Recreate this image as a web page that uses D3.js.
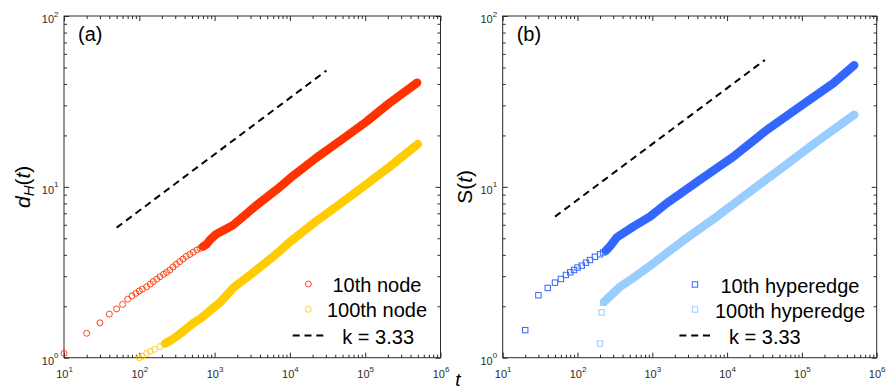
<!DOCTYPE html>
<html>
<head>
<meta charset="utf-8">
<script src="https://cdn.jsdelivr.net/npm/d3@7"></script>
<style>
body { margin: 0; background: #fff; }
svg { display: block; font-family: 'Liberation Sans', Arial, sans-serif; }
</style>
</head>
<body>
<div id="chart"></div>
<script>
// values, [t, value]
const node10 = [
	[10, 1.06], [20, 1.39], [30, 1.60], [40, 1.80], [50, 1.93], [60, 2.05], [70, 2.20], [80, 2.30], [90, 2.38],
	[100, 2.46], [110, 2.52], [125, 2.60], [140, 2.70], [153, 2.79], [170, 2.88], [188, 2.98], [210, 3.08],
	[230, 3.16], [254, 3.26], [280, 3.40], [310, 3.52], [344, 3.65], [380, 3.78], [420, 3.92], [469, 4.02],
	[520, 4.15], [580, 4.27], [640, 4.37], [700, 4.47], [780, 4.60], [870, 4.90], [960, 5.10], [1060, 5.30],
	[1300, 5.55], [1760, 5.97], [3600, 7.80], [6600, 9.60], [11000, 11.6], [22500, 14.8], [50400, 19.1],
	[103000, 24.0], [209000, 30.9], [490000, 40.7]
];
const node100 = [
	[100, 1.0], [110, 1.02], [125, 1.06], [140, 1.09], [160, 1.12], [188, 1.16], [220, 1.21], [260, 1.26],
	[312, 1.33], [400, 1.45], [519, 1.59], [680, 1.72], [865, 1.88], [1172, 2.10], [1800, 2.58], [3600, 3.26],
	[6620, 4.05], [9930, 4.75], [22400, 6.30], [41400, 7.66], [93300, 10.0], [210000, 13.1], [500000, 17.8]
];
const edge10 = [
	[20, 1.45], [30, 2.32], [40, 2.56], [50, 2.75], [60, 2.89], [70, 3.05], [80, 3.16], [90, 3.26], [100, 3.37],
	[114, 3.46], [130, 3.60], [147, 3.73], [171, 3.90], [200, 4.03], [220, 4.13], [240, 4.23], [273, 4.50],
	[334, 5.05], [557, 5.85], [931, 6.69], [1560, 8.02], [4350, 11.0], [12100, 15.0], [33900, 21.5],
	[94400, 29.5], [263000, 40.4], [500000, 51.5]
];
const edge100 = [
	[200, 1.21], [210, 1.84], [220, 2.10], [230, 2.13], [260, 2.25], [370, 2.60], [557, 2.93], [931, 3.45],
	[2590, 4.85], [7260, 6.69], [20200, 9.38], [56400, 13.1], [158000, 18.4], [500000, 26.4]
];
const guideA = [[50, 5.77], [30500, 47.9]];
const guideB = [[50, 6.69], [32000, 55.3]];

const xDomain = [1e1, 1e6];
const yDomain = [1e0, 1e2];
const xMajor = [1e1, 1e2, 1e3, 1e4, 1e5, 1e6];
const yMajor = [1e0, 1e1, 1e2];
const legendA = ['10th node', '100th node', 'k = 3.33'];
const legendB = ['10th hyperedge', '100th hyperedge', 'k = 3.33'];

const plotTop = 16;
const plotBottom = 357.7;
const axisColor = '#2b2b2b';

const svg = d3.select('#chart').append('svg')
		.attr('width', 888)
		.attr('height', 392);

function isMajor(v) {
	return Math.abs(Math.log10(v) - Math.round(Math.log10(v))) < 1e-6;
}

function supLabels(sel, dy) {
	sel.selectAll('.tick text')
			.attr('font-size', 11)
			.attr('font-family', 'Liberation Sans, Arial, sans-serif')
			.attr('fill', axisColor)
			.attr('dy', dy)
			.text('10')
		.append('tspan')
			.attr('font-size', 8)
			.attr('dy', -6.5)
			.text((d) => Math.round(Math.log10(d)));
}

function drawMarkers(sel, pts, s) {
	if (s.marker === 'circle') {
		sel.selectAll(null).data(pts).enter().append('circle')
				.attr('cx', (d) => d[0])
				.attr('cy', (d) => d[1])
				.attr('r', 3)
				.attr('fill', 'none')
				.attr('stroke', s.color)
				.attr('stroke-width', 0.9);
	} else {
		sel.selectAll(null).data(pts).enter().append('rect')
				.attr('x', (d) => d[0] - 2.7)
				.attr('y', (d) => d[1] - 2.7)
				.attr('width', 5.4)
				.attr('height', 5.4)
				.attr('fill', 'none')
				.attr('stroke', s.color)
				.attr('stroke-width', 1);
	}
}

function drawPanel(cfg) {
	const x = d3.scaleLog().domain(xDomain).range([cfg.left, cfg.right]);
	const y = d3.scaleLog().domain(yDomain).range([plotBottom, plotTop]);
	const xMinor = x.ticks().filter((v) => !isMajor(v));
	const yMinor = y.ticks().filter((v) => !isMajor(v));
	const g = svg.append('g').attr('color', axisColor);

	const sides = [
		{ fn: d3.axisBottom, s: x, t: `translate(0,${plotBottom})`, major: xMajor, minor: xMinor },
		{ fn: d3.axisTop, s: x, t: `translate(0,${plotTop})`, major: xMajor, minor: xMinor },
		{ fn: d3.axisLeft, s: y, t: `translate(${cfg.left},0)`, major: yMajor, minor: yMinor },
		{ fn: d3.axisRight, s: y, t: `translate(${cfg.right},0)`, major: yMajor, minor: yMinor },
	];
	sides.forEach((a) => {
		[[a.minor, 3], [a.major, 5]].forEach(([vals, len]) => {
			g.append('g')
					.attr('transform', a.t)
					.call(a.fn(a.s).tickValues(vals).tickSize(-len).tickSizeOuter(0).tickFormat(''))
					.call((s) => s.select('.domain').remove());
		});
	});

	// tick labels
	g.append('g')
			.attr('transform', `translate(0,${plotBottom})`)
			.call(d3.axisBottom(x).tickValues(xMajor).tickSize(0).tickPadding(12.8))
			.call((s) => s.select('.domain').remove())
			.call((s) => supLabels(s, '0.71em'));
	g.append('g')
			.attr('transform', `translate(${cfg.left},0)`)
			.call(d3.axisLeft(y).tickValues(yMajor).tickSize(0).tickPadding(5.5))
			.call((s) => s.select('.domain').remove())
			.call((s) => supLabels(s, '0.6em'));

	g.append('rect')
			.attr('x', cfg.left)
			.attr('y', plotTop)
			.attr('width', cfg.right - cfg.left)
			.attr('height', plotBottom - plotTop)
			.attr('fill', 'none')
			.attr('stroke', axisColor)
			.attr('stroke-width', 1);

	const plot = g.append('g');
	const line = d3.line().x((d) => x(d[0])).y((d) => y(d[1]));

	// guide line
	plot.append('path')
			.attr('d', line(cfg.guide))
			.attr('fill', 'none')
			.attr('stroke', '#000')
			.attr('stroke-width', 2)
			.attr('stroke-dasharray', '7,4.8');

	cfg.series.forEach((s) => {
		const open = s.data.filter((d) => d[0] < s.solidFrom);
		const solid = s.data.filter((d) => d[0] >= s.solidFrom);
		plot.append('path')
				.attr('d', line(solid))
				.attr('fill', 'none')
				.attr('stroke', s.color)
				.attr('stroke-width', s.band)
				.attr('stroke-linecap', 'round')
				.attr('stroke-linejoin', 'round');
		drawMarkers(plot, open.map((d) => [x(d[0]), y(d[1])]), s);
	});

	// legend
	const lg = g.append('g').attr('font-size', 20).attr('fill', '#000');
	cfg.series.forEach((s, i) => {
		drawMarkers(lg, [[cfg.legend.markerX, cfg.legend.rows[i]]], s);
		lg.append('text')
				.attr('x', cfg.legend.textMid)
				.attr('y', cfg.legend.rows[i] + 8)
				.attr('text-anchor', 'middle')
				.text(cfg.labels[i]);
	});
	lg.append('line')
			.attr('x1', cfg.legend.markerX - 15.6)
			.attr('x2', cfg.legend.markerX + 15)
			.attr('y1', cfg.legend.rows[2])
			.attr('y2', cfg.legend.rows[2])
			.attr('stroke', '#000')
			.attr('stroke-width', 2)
			.attr('stroke-dasharray', '7,4.8');
	lg.append('text')
			.attr('x', cfg.legend.markerX + 34)
			.attr('y', cfg.legend.rows[2] + 8.5)
			.text(cfg.labels[2]);

	// panel tag
	g.append('text')
			.attr('x', cfg.left + 14)
			.attr('y', 41)
			.attr('font-size', 20)
			.attr('fill', '#000')
			.text(cfg.tag);

	// y label
	const yl = g.append('text')
			.attr('transform', `translate(${cfg.yLabelX},${(plotTop + plotBottom) / 2}) rotate(-90)`)
			.attr('text-anchor', 'middle')
			.attr('font-size', 21)
			.attr('fill', '#000');
	cfg.yLabel(yl);
}

drawPanel({
	left: 64,
	right: 440.5,
	tag: '(a)',
	guide: guideA,
	labels: legendA,
	legend: { markerX: 308.3, textMid: 377, rows: [284, 309.3, 335.5] },
	series: [
		{ data: node10, color: '#ff3300', marker: 'circle', solidFrom: 700, band: 8.5 },
		{ data: node100, color: '#ffcc00', marker: 'circle', solidFrom: 200, band: 8.5 },
	],
	yLabelX: 30,
	yLabel: (t) => {
		t.append('tspan').attr('font-style', 'italic').text('d');
		t.append('tspan').attr('font-style', 'italic').attr('font-size', 15).attr('dy', 4).text('H');
		t.append('tspan').attr('dy', -4).text('(');
		t.append('tspan').attr('font-style', 'italic').text('t');
		t.append('tspan').text(')');
	},
});

drawPanel({
	left: 502.7,
	right: 876.7,
	tag: '(b)',
	guide: guideB,
	labels: legendB,
	legend: { markerX: 695, textMid: 790, rows: [284.5, 309.5, 335.5] },
	series: [
		{ data: edge10, color: '#3366ff', marker: 'square', solidFrom: 240, band: 8.5 },
		{ data: edge100, color: '#99ccff', marker: 'square', solidFrom: 225, band: 8.5 },
	],
	yLabelX: 472,
	yLabel: (t) => {
		t.append('tspan').text('S(');
		t.append('tspan').attr('font-style', 'italic').text('t');
		t.append('tspan').text(')');
	},
});

svg.append('text')
		.attr('x', 458)
		.attr('y', 386)
		.attr('text-anchor', 'middle')
		.attr('font-size', 19)
		.attr('font-style', 'italic')
		.text('t');
</script>
</body>
</html>
